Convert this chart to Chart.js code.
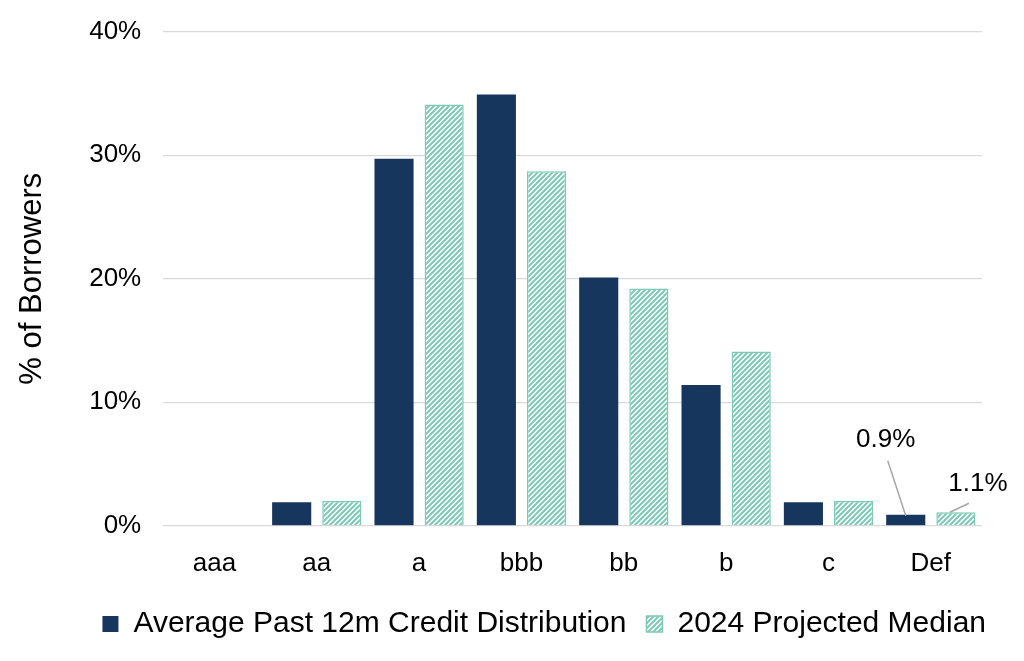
<!DOCTYPE html>
<html>
<head>
<meta charset="utf-8">
<script src="https://cdn.jsdelivr.net/npm/chart.js@4/dist/chart.umd.min.js"></script>
<style>
  html, body { margin: 0; padding: 0; background: #fff; }
  #wrap { width: 1024px; height: 661px; }
</style>
</head>
<body>
<div id="wrap"><canvas id="chart"></canvas></div>
<script>
const ratings = ['aaa', 'aa', 'a', 'bbb', 'bb', 'b', 'c', 'Def'];
const pastAvg = [0, 1.9, 29.7, 34.9, 20.1, 11.4, 1.9, 0.9];
const projected2024 = [0, 2.0, 34.1, 28.7, 19.2, 14.1, 2.0, 1.1];
const yTicks = [0, 10, 20, 30, 40];

const navy = '#17365d';
const teal = '#7dc9b6';
const FONT = '"Liberation Sans", Arial, sans-serif';

// diagonal hatch for the projected series
function makeHatch() {
  const c = document.createElement('canvas');
  c.width = 5; c.height = 5;
  const g = c.getContext('2d');
  g.fillStyle = '#fff';
  g.fillRect(0, 0, 5, 5);
  g.strokeStyle = teal;
  g.lineWidth = 2;
  g.beginPath();
  g.moveTo(-1, 6); g.lineTo(6, -1);
  g.moveTo(-1, 1); g.lineTo(1, -1);
  g.moveTo(4, 6); g.lineTo(6, 4);
  g.stroke();
  return g.createPattern(c, 'repeat');
}
const hatch = makeHatch();

// callouts for the Def bars: [dataset, index, text, dx, dy]
const callouts = [
  [0, 7, '0.9%', -20, -75],
  [1, 7, '1.1%', 22, -28]
];

const calloutPlugin = {
  id: 'callouts',
  afterLayout(chart) {
    // legend sits a bit right of centre in the original
    chart.legend.left += 24;
    chart.legend.right += 24;
  },
  afterDatasetsDraw(chart) {
    const ctx = chart.ctx;
    ctx.save();
    ctx.font = '26px ' + FONT;
    ctx.fillStyle = '#000';
    ctx.strokeStyle = '#a6a6a6';
    ctx.lineWidth = 1.5;
    ctx.textAlign = 'center';
    ctx.textBaseline = 'middle';
    callouts.forEach(([ds, i, txt, dx, dy]) => {
      const bar = chart.getDatasetMeta(ds).data[i];
      const x0 = bar.x, y0 = bar.y;
      const tx = x0 + dx, ty = y0 + dy;
      ctx.beginPath();
      if (ds === 0) {
        ctx.moveTo(x0, y0 + 1);
        ctx.lineTo(tx + 2, ty + 21);
      } else {
        ctx.moveTo(x0 - 6, y0);
        ctx.lineTo(tx - 9, ty + 19);
      }
      ctx.stroke();
      ctx.fillText(txt, tx, ty);
    });
    ctx.restore();
  }
};

new Chart(document.getElementById('chart'), {
  type: 'bar',
  data: {
    labels: ratings,
    datasets: [
      {
        label: 'Average Past 12m Credit Distribution',
        data: pastAvg,
        backgroundColor: navy,
        borderColor: navy,
        borderWidth: 0
      },
      {
        label: '2024 Projected Median',
        data: projected2024,
        backgroundColor: hatch,
        borderColor: teal,
        borderWidth: 1.5
      }
    ]
  },
  options: {
    responsive: true,
    maintainAspectRatio: false,
    animation: false,
    categoryPercentage: 0.98,
    barPercentage: 0.78,
    layout: { padding: { top: 6, right: 42, left: 14, bottom: 12 } },
    plugins: {
      tooltip: { enabled: false },
      legend: {
        position: 'bottom',
        align: 'end',
        labels: {
          color: '#000',
          font: { size: 30, family: FONT },
          boxWidth: 16,
          boxHeight: 16,
          padding: 20
        }
      }
    },
    scales: {
      x: {
        grid: { display: false },
        border: { display: false },
        afterFit: axis => { axis.height -= 4; },
        ticks: {
          color: '#000',
          padding: 14,
          font: { size: 26, family: FONT }
        }
      },
      y: {
        min: 0,
        max: 40,
        afterBuildTicks: axis => { axis.ticks = yTicks.map(v => ({ value: v })); },
        afterFit: axis => { axis.paddingTop -= 6; },
        grid: { color: '#d9d9d9', lineWidth: 1.2, drawTicks: false },
        border: { display: false },
        title: {
          display: true,
          text: '% of Borrowers',
          color: '#000',
          padding: { top: 0, bottom: 16 },
          font: { size: 31, family: FONT }
        },
        ticks: {
          color: '#000',
          padding: 22,
          callback: v => v + '%',
          font: { size: 26, family: FONT }
        }
      }
    }
  },
  plugins: [calloutPlugin]
});
</script>
</body>
</html>
